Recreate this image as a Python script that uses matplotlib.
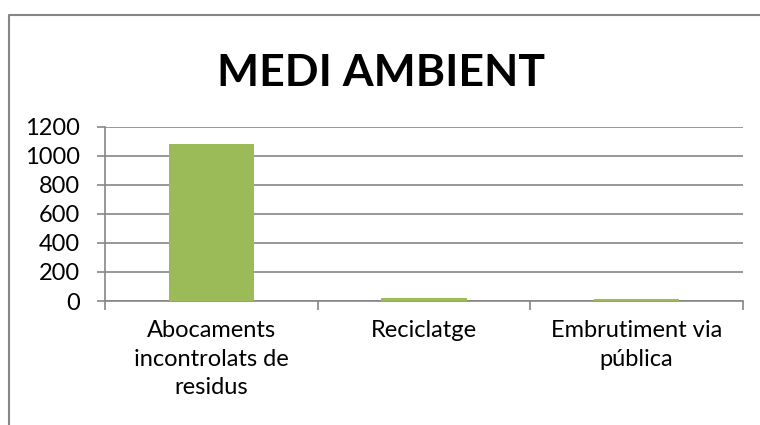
import matplotlib
matplotlib.use("Agg")
import matplotlib.pyplot as plt
from matplotlib.lines import Line2D

categories = ["Abocaments\nincontrolats de\nresidus", "Reciclatge", "Embrutiment via\npública"]
values = [1080, 22, 12]
yticks = [0, 200, 400, 600, 800, 1000, 1200]
title = "MEDI AMBIENT"

W, H = 760, 425
fig = plt.figure(figsize=(W / 100, H / 100), dpi=100)
plt.rcParams['font.family'] = ['Lato', 'DejaVu Sans']

gray = "#868686"
green = "#9BBB59"

ax = fig.add_axes([105 / W, 1 - 301 / H, (743 - 105) / W, (301 - 126.7) / H])
x = list(range(len(categories)))
ax.bar(x, values, width=0.4, color=green, zorder=3)
ax.set_xlim(-0.5, len(categories) - 0.5)
ax.set_ylim(0, 1200)
ax.set_yticks(yticks)
ax.set_yticklabels([str(v) for v in yticks], fontsize=17)
ax.yaxis.grid(True, color=gray, linewidth=1.2, zorder=0)
ax.set_axisbelow(True)
for s in ["top", "right"]:
    ax.spines[s].set_visible(False)
for s in ["left", "bottom"]:
    ax.spines[s].set_color(gray)
    ax.spines[s].set_linewidth(1.2)
ax.tick_params(axis="y", direction="out", length=6, width=1.2, color=gray, pad=12, labelcolor="black")
ax.set_xticks([i + 0.5 for i in range(-1, len(categories))], minor=False)
ax.set_xticklabels([])
ax.tick_params(axis="x", which="major", direction="out", length=6.5, width=1.2, color=gray)
ax.set_xticks(x, minor=True)
ax.set_xticklabels(categories, minor=True, fontsize=17, linespacing=1.42)
ax.tick_params(axis="x", which="minor", length=0, pad=14, labelcolor="black")

fig.text(381 / W, 1 - 73 / H, title, ha="center", va="center", fontsize=32, fontweight="bold")

# chart border (top and left edges visible)
fig.add_artist(Line2D([9 / W, 9 / W, 1.0], [0.0, 1 - 15 / H, 1 - 15 / H],
                      transform=fig.transFigure, color=gray, linewidth=1.5))

fig.savefig("out.png", dpi=100)
